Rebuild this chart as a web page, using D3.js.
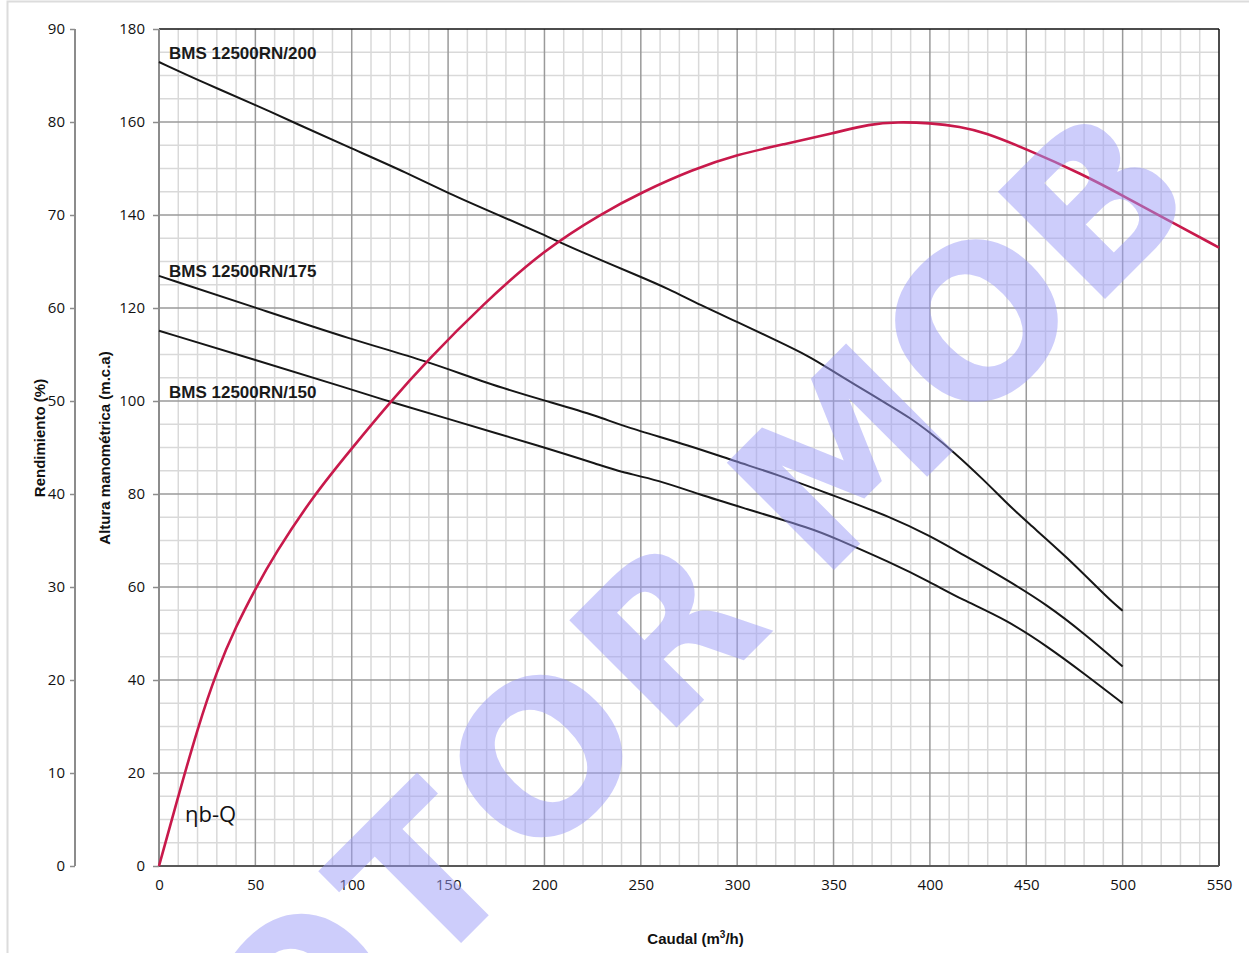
<!DOCTYPE html>
<html><head><meta charset="utf-8">
<script src="https://cdn.jsdelivr.net/npm/d3@7"></script>
<style>
html,body{margin:0;padding:0;background:#fff;}
svg{display:block;}
</style>
</head><body>
<svg id="c" width="1249" height="953"></svg>
<script>
// ---- data (Q in m3/h, H in m.c.a, efficiency in %) ----
const q200 = [0, 24, 50, 71, 100, 129, 150, 175, 200, 216, 250, 264, 281, 300, 320, 338, 350, 360, 378, 390, 400, 412, 428, 440, 450, 471, 493, 500];
const h200 = [172.9, 168.3, 163.7, 159.7, 154.3, 149.0, 144.7, 140.2, 135.7, 132.6, 126.7, 124.2, 120.6, 117.0, 113.1, 109.5, 106.3, 103.8, 99.3, 96.3, 93.2, 89.2, 83.0, 78.0, 74.1, 66.5, 57.3, 54.9];
const q175 = [0, 50, 100, 139, 170, 200, 229, 239, 277, 299, 320, 349, 380, 400, 419, 428, 440, 461, 480, 500];
const h175 = [126.9, 120.1, 113.2, 108.6, 103.8, 100.1, 96.6, 94.8, 90.2, 87.0, 84.3, 79.8, 75.0, 71.0, 66.5, 64.4, 61.5, 56.1, 50.0, 42.9];
const q150 = [0, 50, 100, 120, 149, 200, 229, 239, 259, 281, 300, 340, 349, 380, 400, 416, 440, 461, 480, 500];
const h150 = [115.1, 108.8, 102.5, 99.8, 96.3, 90.0, 86.2, 84.8, 83.0, 79.8, 77.4, 72.4, 70.8, 65.2, 61.1, 57.4, 52.9, 47.2, 41.4, 35.0];
const qEff = [0, 10, 20, 30, 40, 50, 60, 80, 100, 120, 139, 168, 200, 230, 250, 277, 300, 324, 350, 369, 383, 400, 416, 428, 450, 479, 500, 522, 550];
const eff  = [0, 7.5, 14.8, 21.0, 25.8, 29.8, 33.5, 39.8, 44.9, 49.9, 54.3, 60.4, 66.3, 70.2, 72.4, 74.9, 76.5, 77.6, 78.8, 79.8, 80.0, 79.9, 79.5, 78.9, 77.1, 74.4, 72.1, 69.6, 66.5];
const seriesNames = ["BMS 12500RN/200", "BMS 12500RN/175", "BMS 12500RN/150"];
const xTicks = [0, 50, 100, 150, 200, 250, 300, 350, 400, 450, 500, 550];
const hTicks = [0, 20, 40, 60, 80, 100, 120, 140, 160, 180];
const effTicks = [0, 10, 20, 30, 40, 50, 60, 70, 80, 90];
const watermark = ["M", "O", "T", "O", "R", "M", "O", "B"];

// ---- layout ----
const L = 159, R = 1219, T = 29, B = 866;
const svg = d3.select("#c");
const x = d3.scaleLinear([0, 550], [L, R]);
const yH = d3.scaleLinear([0, 180], [B, T]);
const yE = d3.scaleLinear([0, 90], [B, T]);
const tickFont = "'Open Sans', 'Noto Sans', sans-serif";
const boldFont = "'Liberation Sans', Arial, sans-serif";

// outer light border
svg.append("rect").attr("x", 7.5).attr("y", 1.5).attr("width", 1400).attr("height", 1200)
  .attr("fill", "none").attr("stroke", "#dcdcdc").attr("stroke-width", 2);

// grid
const g = svg.append("g");
const minorX = d3.range(0, 551, 10).filter(v => v % 50 !== 0);
const minorY = d3.range(0, 181, 5).filter(v => v % 20 !== 0);
g.selectAll(".mx").data(minorX).join("line")
  .attr("x1", d => x(d)).attr("x2", d => x(d)).attr("y1", T).attr("y2", B)
  .attr("stroke", "#d9d9d9").attr("stroke-width", 1.5);
g.selectAll(".my").data(minorY).join("line")
  .attr("y1", d => yH(d)).attr("y2", d => yH(d)).attr("x1", L).attr("x2", R)
  .attr("stroke", "#d9d9d9").attr("stroke-width", 1.5);
g.selectAll(".Mx").data(xTicks.slice(1, -1)).join("line")
  .attr("x1", d => x(d)).attr("x2", d => x(d)).attr("y1", T).attr("y2", B)
  .attr("stroke", "#9a9a9a").attr("stroke-width", 1.5);
g.selectAll(".My").data(hTicks.slice(1, -1)).join("line")
  .attr("y1", d => yH(d)).attr("y2", d => yH(d)).attr("x1", L).attr("x2", R)
  .attr("stroke", "#9a9a9a").attr("stroke-width", 1.5);

// frame
svg.append("line").attr("x1", L).attr("x2", R).attr("y1", T).attr("y2", T).attr("stroke", "#111").attr("stroke-width", 1.5);
svg.append("line").attr("x1", R).attr("x2", R).attr("y1", T).attr("y2", B).attr("stroke", "#111").attr("stroke-width", 1.5);

// axes
function styleAxis(sel, size) {
  sel.select(".domain").remove();
  sel.selectAll("line").attr("stroke", "#8c8c8c").attr("stroke-width", 1.5);
  sel.selectAll("text").attr("font-family", tickFont).attr("font-size", size).attr("fill", "#111");
}
const axH = svg.append("g").attr("transform", `translate(${L},0)`)
  .call(d3.axisLeft(yH).tickValues(hTicks).tickSize(6).tickPadding(8).tickFormat(d3.format("d")));
styleAxis(axH, 15);
const axE = svg.append("g").attr("transform", `translate(75,0)`)
  .call(d3.axisLeft(yE).tickValues(effTicks).tickSize(5).tickPadding(5).tickFormat(d3.format("d")));
styleAxis(axE, 15);
const axX = svg.append("g").attr("transform", `translate(0,${B})`)
  .call(d3.axisBottom(x).tickValues(xTicks).tickSize(0).tickPadding(13).tickFormat(d3.format("d")));
styleAxis(axX, 15);

// axis lines
svg.append("line").attr("x1", 75).attr("x2", 75).attr("y1", T).attr("y2", B).attr("stroke", "#8c8c8c").attr("stroke-width", 2);
svg.append("line").attr("x1", L).attr("x2", L).attr("y1", T).attr("y2", B).attr("stroke", "#8c8c8c").attr("stroke-width", 2);
svg.append("line").attr("x1", L).attr("x2", R).attr("y1", B).attr("y2", B).attr("stroke", "#595959").attr("stroke-width", 2);

// axis titles
svg.append("text").attr("transform", "translate(45,438) rotate(-90)").attr("text-anchor", "middle")
  .attr("font-family", boldFont).attr("font-weight", "bold").attr("font-size", 15).attr("fill", "#111").text("Rendimiento (%)");
svg.append("text").attr("transform", "translate(109.5,448) rotate(-90)").attr("text-anchor", "middle")
  .attr("font-family", boldFont).attr("font-weight", "bold").attr("font-size", 15).attr("fill", "#111").text("Altura manométrica (m.c.a)");
const cap = svg.append("text").attr("x", 695.5).attr("y", 944).attr("text-anchor", "middle")
  .attr("font-family", boldFont).attr("font-weight", "bold").attr("font-size", 15).attr("fill", "#111");
cap.append("tspan").text("Caudal (m");
cap.append("tspan").attr("font-size", 10).attr("dy", -6).text("3");
cap.append("tspan").attr("dy", 6).text("/h)");

// curves
const lineH = d3.line().x(d => x(d[0])).y(d => yH(d[1])).curve(d3.curveBasis);
const lineE = d3.line().x(d => x(d[0])).y(d => yE(d[1])).curve(d3.curveBasis);
const curves = [d3.zip(q200, h200), d3.zip(q175, h175), d3.zip(q150, h150)];
svg.selectAll(".hq").data(curves).join("path")
  .attr("d", lineH).attr("fill", "none").attr("stroke", "#161616").attr("stroke-width", 2);
svg.append("path").attr("d", lineE(d3.zip(qEff, eff))).attr("fill", "none")
  .attr("stroke", "#c8194b").attr("stroke-width", 2.6);

// series labels
const labelY = [59, 276.5, 398];
svg.selectAll(".lbl").data(seriesNames).join("text")
  .attr("x", 169).attr("y", (d, i) => labelY[i])
  .attr("font-family", boldFont).attr("font-weight", "bold").attr("font-size", 17).attr("fill", "#1a1a1a")
  .text(d => d);

svg.append("text").attr("x", 185).attr("y", 822).attr("font-family", tickFont).attr("font-size", 22)
  .attr("fill", "#111").text("ηb-Q");

// watermark
const wmCenters = [-680, -490, -321, -152, 25, 271, 464, 630];
const wm = svg.append("g").attr("transform", "rotate(-45)");
wm.selectAll("text").data(watermark).join("text")
  .attr("x", (d, i) => wmCenters[i]).attr("y", 992.8)
  .attr("text-anchor", "middle")
  .attr("font-family", "'DejaVu Sans', sans-serif").attr("font-weight", "bold").attr("font-size", 208)
  .attr("fill", "#9b9bf7").attr("fill-opacity", 0.5)
  .text(d => d);
</script>
</body></html>
